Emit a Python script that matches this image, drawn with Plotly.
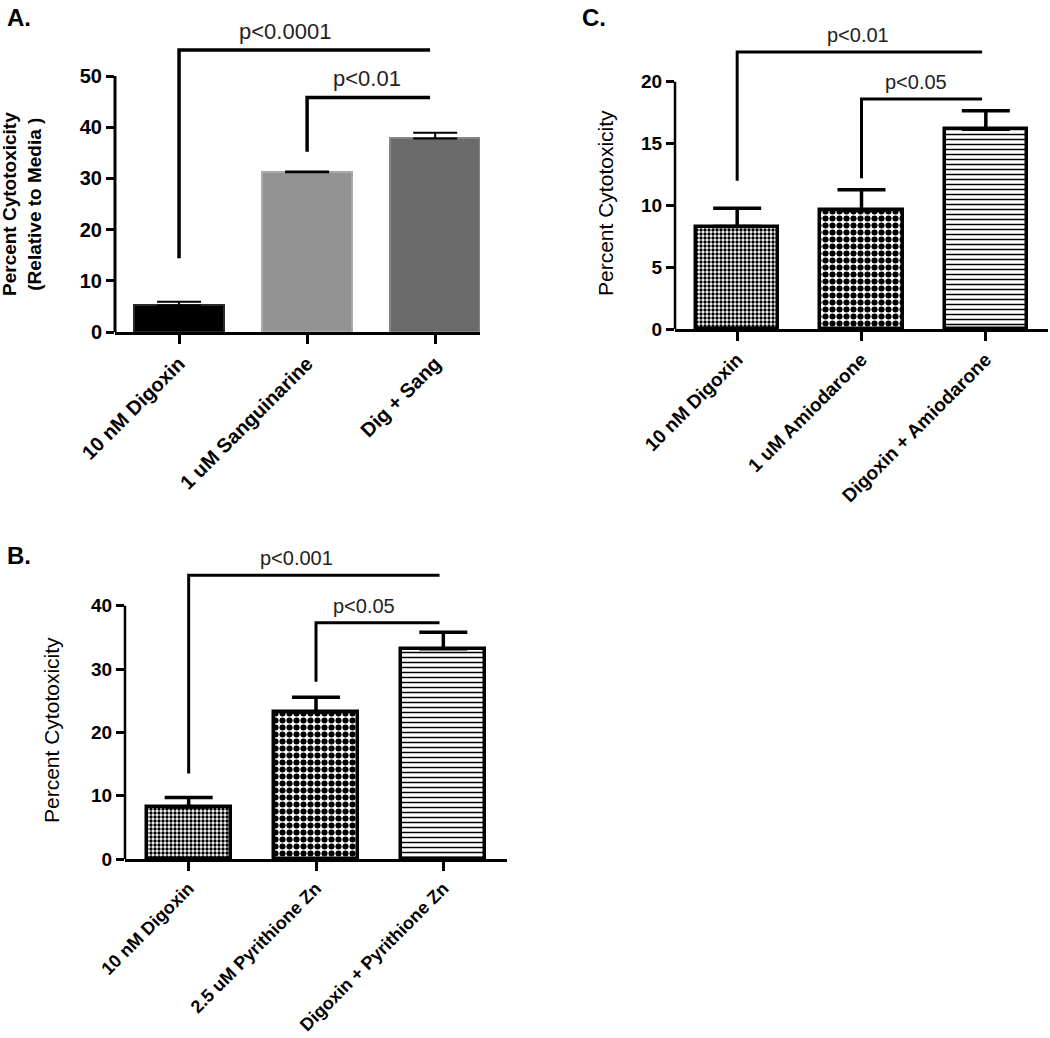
import plotly.graph_objects as go

W, H = 1050, 1038
FONT = "Liberation Sans, Arial, sans-serif"

# ---------------- data ----------------
cats_a = ["10 nM Digoxin", "1 uM Sanguinarine", "Dig + Sang"]
vals_a = [5.2, 31.2, 37.8]
err_a = [0.7, 0.15, 1.1]
ticks_a = [0, 10, 20, 30, 40, 50]

cats_b = ["10 nM Digoxin", "2.5 uM Pyrithione Zn", "Digoxin + Pyrithione Zn"]
vals_b = [8.2, 23.2, 33.2]
err_b = [1.5, 2.35, 2.6]
ticks_b = [0, 10, 20, 30, 40]

cats_c = ["10 nM Digoxin", "1 uM Amiodarone", "Digoxin + Amiodarone"]
vals_c = [8.3, 9.6, 16.15]
err_c = [1.48, 1.67, 1.5]
ticks_c = [0, 5, 10, 15, 20]

# significance brackets: (left bar, right bar, foot level, bracket level, label)
sig_a = [(0, 2, 14.4, 55.1, "p<0.0001"), (1, 2, 35.2, 45.8, "p<0.01")]
sig_b = [(0, 2, 13.5, 44.8, "p<0.001"), (1, 2, 28.0, 37.3, "p<0.05")]
sig_c = [(0, 2, 12.0, 22.4, "p<0.01"), (1, 2, 12.2, 18.6, "p<0.05")]

# ---------------- layout geometry (pixels) ----------------
geo = {
    "A": dict(xl=115, xr=480, xr0=-0.5, xr1=2.35, y0=332, ppu=5.12, top=12),
    "B": dict(xl=125, xr=507, xr0=-0.5, xr1=2.5, y0=859, ppu=6.333, top=535),
    "C": dict(xl=675, xr=1048, xr0=-0.5, xr1=2.5, y0=329.3, ppu=12.38, top=12),
}

fig = go.Figure()
shapes = []
annotations = []


def add_panel(key, ax_id, cats, vals, errs, ticks, sigs, style, lab_dx, lab_left, ytitle, ytitle_px, letter_px):
    g = geo[key]
    xname = "x" if ax_id == 1 else f"x{ax_id}"
    yname = "y" if ax_id == 1 else f"y{ax_id}"
    xl_key = "xaxis" if ax_id == 1 else f"xaxis{ax_id}"
    yl_key = "yaxis" if ax_id == 1 else f"yaxis{ax_id}"
    ytop = (g["y0"] - g["top"]) / g["ppu"]

    fig.add_trace(go.Bar(
        x=list(range(len(cats))), y=vals,
        xaxis=xname, yaxis=yname,
        width=style["width"],
        marker=style["marker"],
        error_y=dict(type="data", symmetric=False, array=errs, arrayminus=[0] * len(errs),
                     color="black", thickness=style["ethick"], width=style["ewidth"]),
        showlegend=False, hoverinfo="skip",
    ))
    lw = style["axlw"]
    fig.layout[xl_key] = dict(
        domain=[g["xl"] / W, g["xr"] / W], range=[g["xr0"], g["xr1"]], anchor=yname,
        showline=True, linewidth=lw, linecolor="black", showgrid=False, zeroline=False,
        ticks="outside", ticklen=9, tickwidth=lw, tickcolor="black",
        tickvals=list(range(len(cats))), ticktext=cats, tickangle=-45,
        tickfont=dict(family=FONT, size=style["xfs"], color="black", weight=style["xfw"]),
        fixedrange=True, automargin=False,
    )
    fig.layout[yl_key] = dict(
        domain=[1 - g["y0"] / H, 1 - g["top"] / H], range=[0, ytop], anchor=xname,
        showline=False, showgrid=False, zeroline=False,
        ticks="outside", ticklen=8, tickwidth=lw, tickcolor="black",
        tickvals=ticks, ticktext=[str(t) for t in ticks],
        tickfont=dict(family=FONT, size=style["yfs"], color="black", weight="bold"),
        fixedrange=True, automargin=False,
    )
    # y axis line only up to the last tick
    shapes.append(dict(type="line", xref=f"{xname} domain", yref=yname, x0=0, x1=0,
                       y0=0, y1=ticks[-1], line=dict(color="black", width=lw)))
    # significance brackets
    for (i0, i1, foot, lvl, lab), lx in zip(sigs, lab_dx):
        shapes.append(dict(type="path", xref=xname, yref=yname,
                           path=f"M {i0},{foot} L {i0},{lvl} L {i1 - style['inset']},{lvl}",
                           line=dict(color="black", width=style["blw"])))
        annotations.append(dict(xref=xname, yref=yname, x=i0 + lx, y=lvl + style["labgap"],
                                text=lab, showarrow=False, xanchor="center", yanchor="bottom",
                                font=dict(family=FONT, size=style["pfs"], color="#222")))
    # y title
    annotations.append(dict(xref="paper", yref="paper", x=ytitle_px[0] / W, y=1 - ytitle_px[1] / H,
                            text=ytitle, textangle=-90, showarrow=False,
                            xanchor="center", yanchor="middle",
                            font=dict(family=FONT, size=style["tfs"], color="black", weight=style["tfw"])))
    # panel letter
    annotations.append(dict(xref="paper", yref="paper", x=letter_px[0] / W, y=1 - letter_px[1] / H,
                            text=lab_left, showarrow=False, xanchor="left", yanchor="top",
                            font=dict(family=FONT, size=24, color="black", weight="bold")))


style_a = dict(
    width=0.7,
    marker=dict(color=["#000000", "#939393", "#6b6b6b"],
                line=dict(color=["#2a2a2a", "#a9a9a9", "#858585"], width=2)),
    ethick=2, ewidth=22, axlw=3, xfs=20, xfw="bold", yfs=20, tfs=19, tfw="bold",
    inset=0.04, blw=3.5, pfs=22, labgap=0.8,
)
style_bc = dict(
    width=0.66,
    marker=dict(color="white",
                line=dict(color="black", width=3.5),
                pattern=dict(shape=[".", ".", "-"], size=[4, 7, 5], solidity=[0.55, 0.6, 0.3],
                             fgcolor="black", bgcolor="white", fillmode="replace")),
    ethick=3.5, ewidth=24, axlw=2.5, xfs=19, xfw="bold", yfs=19, tfs=21, tfw="normal",
    inset=0.03, blw=3, pfs=20, labgap=0.3,
)

style_b = dict(style_bc)
style_b["labgap"] = 0.6
style_b["xfs"] = 18
add_panel("A", 1, cats_a, vals_a, err_a, ticks_a, sig_a, style_a, [0.83, 0.47],
          "A.", "Percent Cytotoxicity<br>(Relative to Media )", (22, 204), (5, 2))
add_panel("B", 2, cats_b, vals_b, err_b, ticks_b, sig_b, style_b, [0.85, 0.38],
          "B.", "Percent Cytotoxicity", (51, 730), (5, 540))
add_panel("C", 3, cats_c, vals_c, err_c, ticks_c, sig_c, style_bc, [0.97, 0.44],
          "C.", "Percent Cytotoxicity", (605, 203), (580, 2))

fig.update_layout(
    width=W, height=H, margin=dict(l=0, r=0, t=0, b=0),
    paper_bgcolor="white", plot_bgcolor="white",
    shapes=shapes, annotations=annotations,
    font=dict(family=FONT, color="black"),
    bargap=0,
)

fig.write_html("out.html", config={"displayModeBar": False},
               post_script="document.body.style.margin='0px';document.body.style.overflow='hidden';")
